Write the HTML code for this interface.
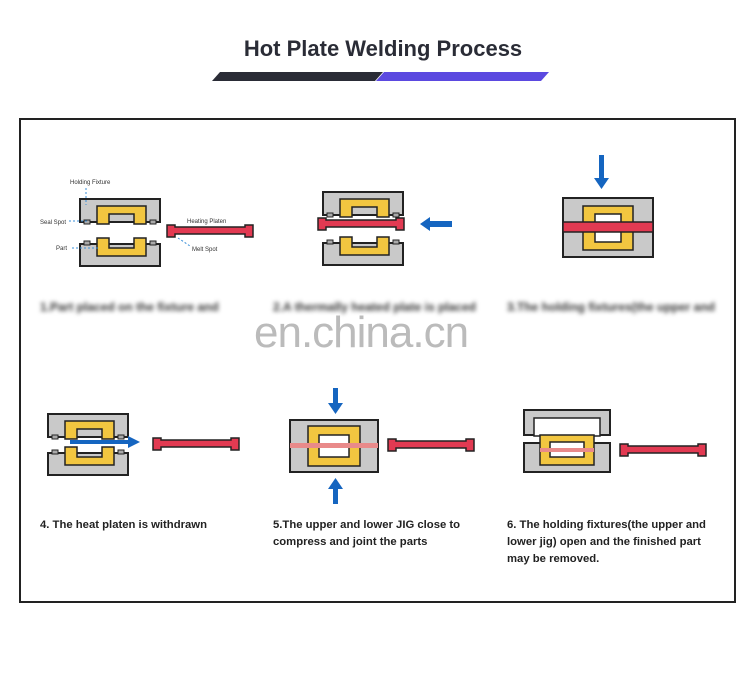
<!DOCTYPE html>
<html><head><meta charset="utf-8"><style>
body{margin:0;background:#fff;width:750px;height:698px;overflow:hidden;position:relative;font-family:"Liberation Sans",sans-serif}
.t{position:absolute;left:8px;width:750px;top:36px;text-align:center;font-size:22px;font-weight:bold;color:#2a2c36}
.cap{position:absolute;font-size:11.3px;font-weight:bold;color:#222;line-height:17px}
.blur{position:absolute;top:300px;font-size:12px;font-weight:bold;color:#333;filter:blur(2px)}
.wm{position:absolute;left:254px;top:308px;font-size:44px;color:#bbb;letter-spacing:-1px}
</style></head><body>
<div class="t">Hot Plate Welding Process</div>
<svg width="750" height="698" style="position:absolute;left:0;top:0">
<polygon points="220,72 383,72 375,81 212,81" fill="#2a2c36"/>
<polygon points="384,72 549,72 541,81 376,81" fill="#5b49e0"/>
<defs>
<g id="up"><rect x="0" y="0" width="80" height="23" fill="#c9c9c9" stroke="#222" stroke-width="2"/><rect x="4" y="21" width="6" height="4" fill="#aaa" stroke="#222"/><rect x="70" y="21" width="6" height="4" fill="#aaa" stroke="#222"/><path d="M17 7 H66 V25 H54 V15 H29 V25 H17Z" fill="#f2c640" stroke="#222" stroke-width="1.5"/></g>
<g id="lo"><rect x="0" y="6" width="80" height="22" fill="#c9c9c9" stroke="#222" stroke-width="2"/><rect x="4" y="3" width="6" height="4" fill="#aaa" stroke="#222"/><rect x="70" y="3" width="6" height="4" fill="#aaa" stroke="#222"/><path d="M17 0 H29 V10 H54 V0 H66 V18 H17Z" fill="#f2c640" stroke="#222" stroke-width="1.5"/></g>
<g id="pl"><path d="M0 3 H8 V5 H78 V3 H86 V15 H78 V12 H8 V15 H0Z" fill="#e23a52" stroke="#222" stroke-width="1.5"/></g>
</defs>
<rect x="20" y="119" width="715" height="483" fill="none" stroke="#222" stroke-width="2"/>
<use href="#up" x="80" y="199"/><use href="#lo" x="80" y="238"/><use href="#pl" x="167" y="222"/>
<g font-size="6" fill="#333"><text x="70" y="184">Holding Fixture</text><text x="40" y="224">Seal Spot</text><text x="56" y="250">Part</text><text x="187" y="223">Heating Platen</text><text x="192" y="251">Melt Spot</text></g>
<g stroke="#3a8fd8" stroke-dasharray="2,2"><line x1="86" y1="188" x2="86" y2="205"/><line x1="69" y1="221" x2="88" y2="221"/><line x1="72" y1="248" x2="100" y2="248"/><line x1="178" y1="238" x2="190" y2="246"/></g>
<use href="#up" x="323" y="192"/><use href="#lo" x="323" y="237"/><use href="#pl" x="318" y="215"/>
<path d="M452 221 H430 V217 L420 224 L430 231 V227 H452Z" fill="#1565c0"/>
<rect x="599" y="155" width="5" height="24" fill="#1565c0"/><path d="M594 178 H609 L601.5 189Z" fill="#1565c0"/>
<rect x="563" y="198" width="90" height="59" fill="#c9c9c9" stroke="#222" stroke-width="2"/>
<rect x="583" y="206" width="50" height="44" fill="#f2c640" stroke="#222" stroke-width="1.5"/><rect x="595" y="214" width="26" height="28" fill="#fff" stroke="#222" stroke-width="1.5"/>
<path d="M563 222 H653 V232 H563Z" fill="#e23a52" stroke="#222" stroke-width="1.5"/>
<use href="#up" x="48" y="414"/><use href="#lo" x="48" y="447"/>
<rect x="70" y="440" width="60" height="4" fill="#1565c0"/><path d="M128 436 L140 442 L128 448Z" fill="#1565c0"/>
<use href="#pl" x="153" y="435"/>
<rect x="333" y="388" width="5" height="16" fill="#1565c0"/><path d="M328 403 H343 L335.5 414Z" fill="#1565c0"/>
<rect x="333" y="488" width="5" height="16" fill="#1565c0"/><path d="M328 489 H343 L335.5 478Z" fill="#1565c0"/>
<rect x="290" y="420" width="88" height="52" fill="#c9c9c9" stroke="#222" stroke-width="2"/>
<rect x="308" y="426" width="52" height="40" fill="#f2c640" stroke="#222" stroke-width="1.5"/><rect x="319" y="435" width="30" height="22" fill="#fff" stroke="#222" stroke-width="1.5"/>
<rect x="290" y="443" width="88" height="5" fill="#e98a8a"/>
<use href="#pl" x="388" y="436"/>
<rect x="524" y="410" width="86" height="25" fill="#c9c9c9" stroke="#222" stroke-width="2"/><rect x="534" y="418" width="66" height="18" fill="#fff" stroke="#222" stroke-width="1.5"/>
<rect x="524" y="443" width="86" height="29" fill="#c9c9c9" stroke="#222" stroke-width="2"/>
<rect x="540" y="435" width="54" height="30" fill="#f2c640" stroke="#222" stroke-width="1.5"/><rect x="550" y="442" width="34" height="15" fill="#fff" stroke="#222" stroke-width="1.5"/>
<rect x="540" y="448" width="54" height="4" fill="#e98a8a"/>
<use href="#pl" x="620" y="441"/>
</svg>
<div class="blur" style="left:40px">1.Part placed on the fixture and</div>
<div class="blur" style="left:273px">2.A thermally heated plate is placed</div>
<div class="blur" style="left:507px">3.The holding fixtures(the upper and</div>
<div class="wm">en.china.cn</div>
<div class="cap" style="left:40px;top:517px">4. The heat platen is withdrawn</div>
<div class="cap" style="left:273px;top:517px">5.The upper and lower JIG close to<br>compress and joint the parts</div>
<div class="cap" style="left:507px;top:517px">6. The holding fixtures(the upper and<br>lower jig) open and the finished part<br>may be removed.</div>
</body></html>
